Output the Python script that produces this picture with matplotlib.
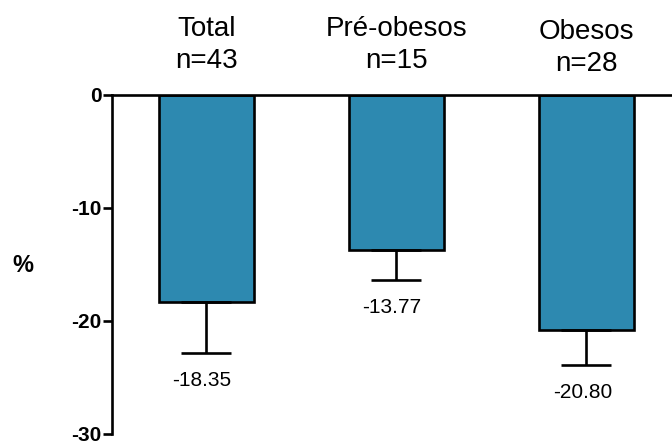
import numpy as np
import matplotlib.pyplot as plt

plt.rcParams['font.family'] = ['Liberation Sans', 'DejaVu Sans']
plt.rcParams['axes.unicode_minus'] = False

grupos = ['Total', 'Pré-obesos', 'Obesos']
n_txt = ['n=43', 'n=15', 'n=28']
medias = [-18.35, -13.77, -20.80]
erros = [4.5, 2.65, 3.15]  # so a parte de baixo do erro
rotulos = ['-18.35', '-13.77', '-20.80']

fig = plt.figure(figsize=(6.72, 4.46), dpi=100)
ax = fig.add_axes([0.1667, 0.028, 0.8333, 0.759])

x = np.arange(len(grupos))
ax.bar(x, medias, width=0.5, color='#2D89B0', edgecolor='black', linewidth=1.9, zorder=2)
ax.errorbar(x, medias, yerr=[erros, [0] * len(erros)], fmt='none', ecolor='black',
            elinewidth=1.9, capsize=18, capthick=1.9, zorder=3)

# valores embaixo das barras
for i in range(len(grupos)):
    ax.annotate(rotulos[i], xy=(x[i], medias[i] - erros[i]), xytext=(-3, -13),
                textcoords='offset points', ha='center', va='top', fontsize=15)

# nomes dos grupos em cima
for i in range(len(grupos)):
    dy = -2.5 if grupos[i] == 'Obesos' else 0
    ax.annotate(grupos[i], xy=(x[i], 0), xytext=(0, 42.5 + dy), textcoords='offset points',
                ha='center', va='baseline', fontsize=20, annotation_clip=False)
    ax.annotate(n_txt[i], xy=(x[i], 0), xytext=(0, 19.5 + dy), textcoords='offset points',
                ha='center', va='baseline', fontsize=20, annotation_clip=False)

ax.set_xlim(-0.495, 2.45)
ax.set_ylim(-30, 0)
ax.set_yticks([0, -10, -20, -30])
ax.set_xticks([])
for lab in ax.get_yticklabels():
    lab.set_fontweight('bold')
ax.tick_params(axis='y', direction='out', length=6.5, width=1.9, labelsize=15, pad=1)

ax.spines['right'].set_visible(False)
ax.spines['bottom'].set_visible(False)
ax.spines['left'].set_linewidth(1.9)
ax.spines['top'].set_linewidth(1.9)

ax.set_ylabel('%', rotation=0, fontsize=17, fontweight='bold', va='center', ha='center')
ax.yaxis.set_label_coords(-0.159, 0.495)

fig.savefig('out.png', dpi=100)
